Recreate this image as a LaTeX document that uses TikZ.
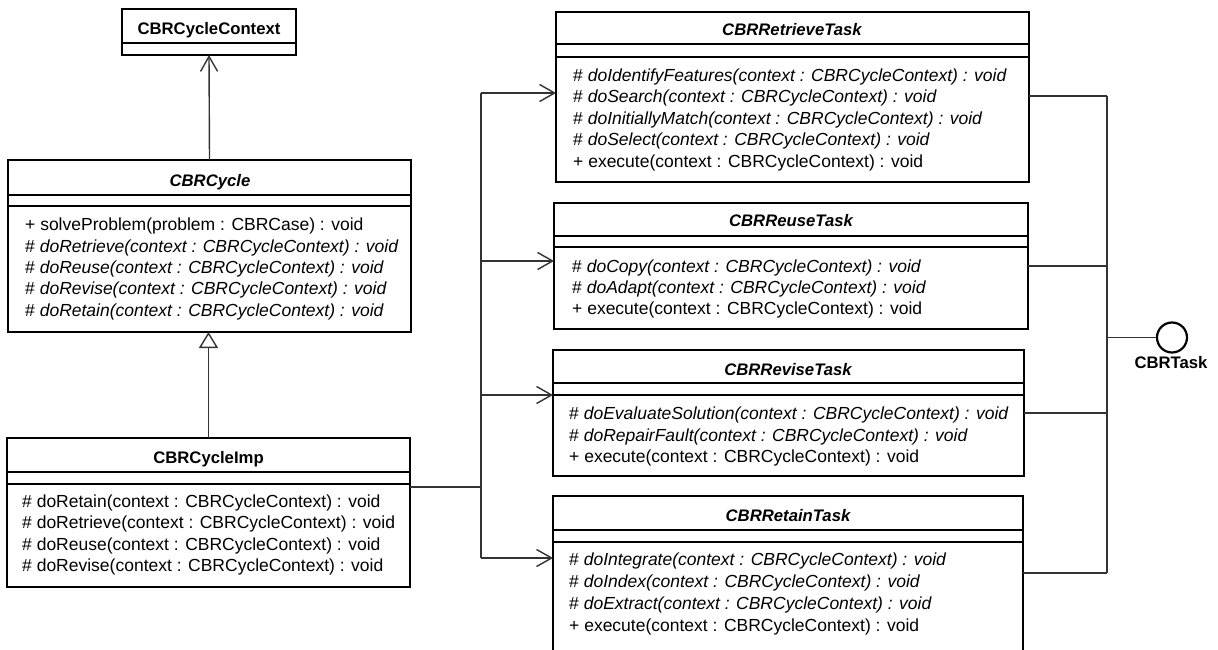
\documentclass[tikz,border=0pt]{standalone}
\usepackage{fontspec}
\setmainfont{Liberation Sans}
\usetikzlibrary{arrows.meta}
\tikzset{
  classbox/.style={draw=black, line width=2.8pt, inner sep=0pt, outer sep=0pt, anchor=north west, fill=white},
  sepline/.style={draw=black, line width=1.2pt},
  conn/.style={draw=black!80, line width=1.4pt},
  assoc/.style={conn, -{Straight Barb[length=15pt,width=17pt,line width=1.4pt]}},
  gener/.style={conn, -{Triangle[open,length=16pt,width=19pt,line width=1.4pt,fill=white]}},
  member/.style={anchor=base west, inner sep=0pt, font=\fontsize{17.5}{20}\selectfont},
  ctitle/.style={anchor=base, inner sep=0pt, font=\fontsize{16.7}{20}\selectfont\bfseries},
  atitle/.style={anchor=base, inner sep=0pt, font=\fontsize{16.7}{20}\selectfont\bfseries\itshape},
}
\begin{document}
\begin{tikzpicture}[x=1pt,y=-1pt]
\clip (0,0) rectangle (1218,650);
\fill[white] (0,0) rectangle (1218,650);

% ---------- CBRCycleContext
\node[classbox, minimum width=174pt, minimum height=46pt] (ctx) at (122,9) {};
\draw[sepline] (ctx.west |- 0,43) -- (ctx.east |- 0,43);
\node[ctitle] (ctxT) at (209,35) {CBRCycleContext};

% ---------- CBRCycle
\node[classbox, minimum width=403pt, minimum height=172pt] (cyc) at (8,160) {};
\draw[sepline] (cyc.west |- 0,195) -- (cyc.east |- 0,195);
\draw[sepline] (cyc.west |- 0,206) -- (cyc.east |- 0,206);
\node[atitle] (cycT) at (210,186) {CBRCycle};
\node[member] (cyc1) at (25,230.7) {+ solveProblem(problem : CBRCase) : void};
\node[member] (cyc2) at (25,252) {\# \textit{doRetrieve(context : CBRCycleContext) : void}};
\node[member] (cyc3) at (25,273.3) {\# \textit{doReuse(context : CBRCycleContext) : void}};
\node[member] (cyc4) at (25,294.7) {\# \textit{doRevise(context : CBRCycleContext) : void}};
\node[member] (cyc5) at (25,316) {\# \textit{doRetain(context : CBRCycleContext) : void}};

% ---------- CBRCycleImp
\node[classbox, minimum width=403pt, minimum height=149pt] (imp) at (7,438) {};
\draw[sepline] (imp.west |- 0,472) -- (imp.east |- 0,472);
\draw[sepline] (imp.west |- 0,484) -- (imp.east |- 0,484);
\node[ctitle] (impT) at (208.5,463) {CBRCycleImp};
\node[member] (imp1) at (22,507) {\# doRetain(context : CBRCycleContext) : void};
\node[member] (imp2) at (22,528.5) {\# doRetrieve(context : CBRCycleContext) : void};
\node[member] (imp3) at (22,550) {\# doReuse(context : CBRCycleContext) : void};
\node[member] (imp4) at (22,571.5) {\# doRevise(context : CBRCycleContext) : void};

% ---------- CBRRetrieveTask
\node[classbox, minimum width=473pt, minimum height=170pt] (ret) at (556,12) {};
\draw[sepline] (ret.west |- 0,44) -- (ret.east |- 0,44);
\draw[sepline] (ret.west |- 0,57) -- (ret.east |- 0,57);
\node[atitle] (retT) at (792,36) {CBRRetrieveTask};
\node[member] (ret1) at (573,81.5) {\# \textit{doIdentifyFeatures(context : CBRCycleContext) : void}};
\node[member] (ret2) at (573,102.9) {\# \textit{doSearch(context : CBRCycleContext) : void}};
\node[member] (ret3) at (573,124.3) {\# \textit{doInitiallyMatch(context : CBRCycleContext) : void}};
\node[member] (ret4) at (573,145.7) {\# \textit{doSelect(context : CBRCycleContext) : void}};
\node[member] (ret5) at (573,167.1) {+ execute(context : CBRCycleContext) : void};

% ---------- CBRReuseTask
\node[classbox, minimum width=474pt, minimum height=126pt] (reu) at (554,203) {};
\draw[sepline] (reu.west |- 0,236) -- (reu.east |- 0,236);
\draw[sepline] (reu.west |- 0,247) -- (reu.east |- 0,247);
\node[atitle] (reuT) at (791,226) {CBRReuseTask};
\node[member] (reu1) at (572,272) {\# \textit{doCopy(context : CBRCycleContext) : void}};
\node[member] (reu2) at (572,293.3) {\# \textit{doAdapt(context : CBRCycleContext) : void}};
\node[member] (reu3) at (572,314.5) {+ execute(context : CBRCycleContext) : void};

% ---------- CBRReviseTask
\node[classbox, minimum width=471pt, minimum height=126pt] (rev) at (553,350) {};
\draw[sepline] (rev.west |- 0,383) -- (rev.east |- 0,383);
\draw[sepline] (rev.west |- 0,395) -- (rev.east |- 0,395);
\node[atitle] (revT) at (788,375) {CBRReviseTask};
\node[member] (rev1) at (569,419) {\# \textit{doEvaluateSolution(context : CBRCycleContext) : void}};
\node[member] (rev2) at (569,441) {\# \textit{doRepairFault(context : CBRCycleContext) : void}};
\node[member] (rev3) at (569,462.5) {+ execute(context : CBRCycleContext) : void};

% ---------- CBRRetainTask
\node[classbox, minimum width=470pt, minimum height=170pt] (rtn) at (553,496) {};
\draw[sepline] (rtn.west |- 0,530) -- (rtn.east |- 0,530);
\draw[sepline] (rtn.west |- 0,542) -- (rtn.east |- 0,542);
\node[atitle] (rtnT) at (788,521.7) {CBRRetainTask};
\node[member] (rtn1) at (569,565.5) {\# \textit{doIntegrate(context : CBRCycleContext) : void}};
\node[member] (rtn2) at (569,587) {\# \textit{doIndex(context : CBRCycleContext) : void}};
\node[member] (rtn3) at (569,609) {\# \textit{doExtract(context : CBRCycleContext) : void}};
\node[member] (rtn4) at (569,631) {+ execute(context : CBRCycleContext) : void};

% ---------- connectors left
\draw[assoc] (cyc.north) -- (ctx.south);
\draw[gener] (imp.north) -- (imp.north |- cyc.south);

\coordinate (j) at (481,487);
\coordinate (b1) at (481,93);
\coordinate (b2) at (481,261);
\coordinate (b3) at (481,395);
\coordinate (b4) at (481,558);
\draw[conn] (imp.east |- j) -- (j);
\draw[conn] (b1) -- (b4);
\draw[assoc] (b1) -- (ret.west |- b1);
\draw[assoc] (b2) -- (reu.west |- b2);
\draw[assoc] (b3) -- (rev.west |- b3);
\draw[assoc] (b4) -- (rtn.west |- b4);

% ---------- connectors right / interface
\coordinate (r1) at (1107,96);
\coordinate (r2) at (1107,266);
\coordinate (r3) at (1107,413);
\coordinate (r4) at (1107,573);
\coordinate (rl) at (1107,337.5);
\draw[conn] (ret.east |- r1) -- (r1);
\draw[conn] (reu.east |- r2) -- (r2);
\draw[conn] (rev.east |- r3) -- (r3);
\draw[conn] (rtn.east |- r4) -- (r4);
\draw[conn] (r1) -- (r4);
\node[circle, draw=black, line width=2.2pt, minimum size=30pt, inner sep=0pt] (iface) at (1172,337.5) {};
\draw[conn] (rl) -- (iface.west);
\node[ctitle] (ifaceT) at (1171,368) {CBRTask};
\end{tikzpicture}
\end{document}
